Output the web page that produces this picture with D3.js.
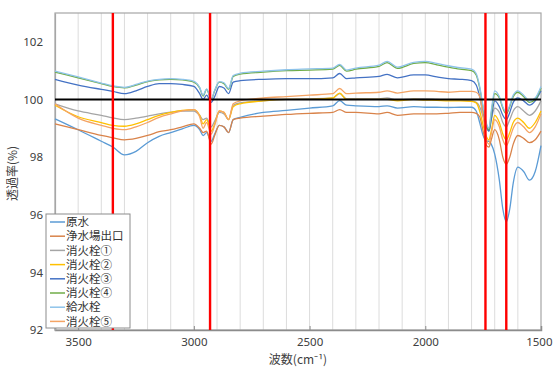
<!DOCTYPE html>
<html>
	<head>
		<title>FT-IR</title>
		<meta charset="UTF-8">
		<style type="text/css">
			body { margin: 0; background: #fff; }
			text { font-family: "Noto Sans CJK JP", "Noto Sans", sans-serif; }
		</style>
		<script src="https://d3js.org/d3.v7.min.js"></script>
	</head>
	<body>
		<script type="text/javascript">

			// wavenumber grid (cm-1)
			var wavenumbers = [3600, 3500, 3400, 3350, 3300, 3250, 3200, 3150, 3100, 3050, 3000, 2975, 2960, 2945, 2925, 2910, 2890, 2870, 2850, 2830, 2800, 2700, 2600, 2500, 2400, 2370, 2340, 2300, 2200, 2165, 2120, 2050, 2000, 1950, 1900, 1850, 1800, 1780, 1765, 1750, 1735, 1725, 1715, 1700, 1680, 1665, 1650, 1635, 1620, 1600, 1575, 1550, 1525, 1500];

			var genSui = [99.33, 98.95, 98.55, 98.35, 98.08, 98.2, 98.5, 98.72, 98.85, 98.98, 99.1, 98.95, 98.75, 98.85, 98.55, 98.8, 99.1, 99.05, 98.85, 99.3, 99.38, 99.55, 99.62, 99.7, 99.78, 99.96, 99.8, 99.78, 99.75, 99.78, 99.7, 99.75, 99.73, 99.73, 99.72, 99.73, 99.73, 99.6, 99.2, 98.75, 98.55, 98.55, 98.45, 98.1, 97.2, 96.2, 95.75, 96.2, 97.1, 97.65, 97.5, 97.2, 97.5, 98.4];
			var jousuijou = [99.15, 98.95, 98.75, 98.67, 98.6, 98.65, 98.75, 98.88, 98.95, 99.05, 99.15, 99.0, 98.85, 98.9, 98.45, 98.75, 99.1, 99.05, 98.85, 99.3, 99.35, 99.42, 99.48, 99.52, 99.55, 99.65, 99.55, 99.55, 99.5, 99.55, 99.45, 99.5, 99.5, 99.5, 99.52, 99.55, 99.55, 99.52, 99.4, 98.9, 98.4, 98.35, 98.6, 98.95, 98.6, 98.0, 97.75, 98.0, 98.45, 98.75, 98.65, 98.5, 98.6, 98.9];
			var shoukasen1 = [99.85, 99.6, 99.45, 99.36, 99.3, 99.35, 99.42, 99.5, 99.56, 99.6, 99.6, 99.45, 99.3, 99.35, 99.05, 99.25, 99.55, 99.5, 99.3, 99.8, 99.88, 99.95, 100.0, 100.02, 100.05, 100.2, 100.02, 100.02, 100.02, 100.05, 99.98, 100.02, 100.02, 100.0, 99.98, 99.97, 99.95, 99.9, 99.75, 99.4, 99.0, 98.9, 99.3, 99.7, 99.55, 99.2, 99.05, 99.3, 99.6, 99.75, 99.6, 99.45, 99.6, 99.95];
			var shoukasen2 = [99.8, 99.4, 99.2, 99.1, 99.07, 99.15, 99.3, 99.45, 99.55, 99.62, 99.65, 99.45, 99.15, 99.3, 98.9, 99.15, 99.6, 99.55, 99.3, 99.75, 99.85, 99.95, 100.0, 100.0, 100.05, 100.22, 100.0, 100.0, 100.0, 100.0, 99.95, 100.0, 99.98, 99.97, 99.95, 99.95, 99.93, 99.88, 99.6, 99.1, 98.7, 98.6, 98.9, 99.45, 99.2, 98.8, 98.6, 98.85, 99.2, 99.35, 99.2, 99.0, 99.2, 99.6];
			var shoukasen3 = [100.7, 100.5, 100.35, 100.28, 100.2, 100.3, 100.45, 100.55, 100.55, 100.52, 100.45, 100.2, 100.0, 100.15, 99.9, 100.1, 100.45, 100.4, 100.2, 100.6, 100.65, 100.7, 100.72, 100.72, 100.75, 100.9, 100.72, 100.75, 100.8, 100.87, 100.75, 100.85, 100.85, 100.78, 100.72, 100.7, 100.65, 100.5, 100.1, 99.5, 99.05, 98.9, 99.3, 99.95, 99.75, 99.45, 99.3, 99.55, 99.9, 100.05, 99.95, 99.8, 99.95, 100.3];
			var shoukasen4 = [100.95, 100.75, 100.55, 100.45, 100.4, 100.5, 100.62, 100.68, 100.7, 100.68, 100.6, 100.4, 100.12, 100.35, 100.0, 100.3, 100.6, 100.55, 100.35, 100.8, 100.88, 100.95, 101.0, 101.02, 101.05, 101.18, 100.98, 101.05, 101.15, 101.28, 101.08, 101.25, 101.28, 101.2, 101.12, 101.05, 101.0, 100.85, 100.4, 99.7, 99.1, 98.95, 99.5, 100.2, 100.05, 99.7, 99.5, 99.75, 100.1, 100.25, 100.1, 99.9, 100.0, 100.4];
			var kyuusuisen = [100.98, 100.78, 100.57, 100.47, 100.42, 100.52, 100.64, 100.7, 100.72, 100.7, 100.63, 100.42, 100.15, 100.37, 100.03, 100.32, 100.62, 100.58, 100.38, 100.83, 100.91, 100.98, 101.03, 101.06, 101.09, 101.22, 101.02, 101.09, 101.19, 101.32, 101.12, 101.29, 101.32, 101.25, 101.17, 101.1, 101.05, 100.9, 100.45, 99.75, 99.15, 99.0, 99.6, 100.3, 100.1, 99.75, 99.55, 99.8, 100.15, 100.3, 100.15, 99.95, 100.05, 100.45];
			var shoukasen5 = [99.85, 99.35, 99.1, 99.0, 98.95, 99.05, 99.2, 99.38, 99.5, 99.6, 99.65, 99.4, 99.0, 99.2, 98.8, 99.1, 99.6, 99.55, 99.3, 99.85, 99.95, 100.05, 100.1, 100.15, 100.2, 100.38, 100.2, 100.22, 100.25, 100.3, 100.22, 100.3, 100.3, 100.28, 100.25, 100.28, 100.28, 100.25, 100.1, 99.4, 98.6, 98.45, 98.8, 99.3, 99.05, 98.6, 98.4, 98.65, 99.0, 99.2, 99.05, 98.85, 99.05, 99.5];

			var seriesNames = ["原水", "浄水場出口", "消火栓①", "消火栓②", "消火栓③", "消火栓④", "給水栓", "消火栓⑤"];
			var seriesValues = [genSui, jousuijou, shoukasen1, shoukasen2, shoukasen3, shoukasen4, kyuusuisen, shoukasen5];
			var seriesColors = ["#5b9bd5", "#d9834a", "#a5a5a5", "#ffc000", "#4472c4", "#70ad47", "#8ec3ea", "#f4a464"];

			// peaks marked in red, and the 100 % reference
			var markLines = [3350, 2930, 1740, 1650];
			var baseLine = 100;

			var xTicks = [3500, 3000, 2500, 2000, 1500];
			var xGrid = d3.range(3500, 1500, -100);
			var yTicks = [92, 94, 96, 98, 100, 102];

			var margin = {top: 13, right: 12, bottom: 37, left: 55},
				width = 553 - margin.left - margin.right,
				height = 367 - margin.top - margin.bottom;

			var x = d3.scaleLinear().domain([3600, 1500]).range([0, width]);
			var y = d3.scaleLinear().domain([92, 103]).range([height, 0]);

			var svg = d3.select("body")
			.append("svg")
				.attr("width", 553)
				.attr("height", 367)
			.append("g")
				.attr("transform", "translate(" + margin.left + "," + margin.top + ")");

			// vertical grid
			svg.append("g")
				.selectAll("line")
				.data(xGrid)
				.enter().append("line")
					.attr("x1", d => x(d)).attr("x2", d => x(d))
					.attr("y1", 0).attr("y2", height)
					.attr("stroke", "#dcdcdc")
					.attr("stroke-width", 1);

			// frame
			svg.append("rect")
				.attr("width", width).attr("height", height)
				.attr("fill", "none")
				.attr("stroke", "#a6a6a6")
				.attr("stroke-width", 1.2);

			var xAxis = d3.axisBottom(x).tickValues(xTicks).tickSize(-4).tickPadding(8).tickFormat(d3.format("d"));
			var yAxis = d3.axisLeft(y).tickValues(yTicks).tickSize(0).tickPadding(12);

			var gx = svg.append("g")
				.attr("transform", "translate(0," + height + ")")
				.call(xAxis);
			var gy = svg.append("g").call(yAxis);

			[gx, gy].forEach(function(g) {
				g.select(".domain").attr("stroke", "#8c8c8c").attr("stroke-width", 1.5);
				g.selectAll(".tick line").attr("stroke", "#8c8c8c");
				g.selectAll("text").attr("fill", "#404040").style("font-size", "11.5px")
					.style("font-family", "'Noto Sans', sans-serif");
			});
			gy.select(".domain").attr("stroke", "#a6a6a6").attr("stroke-width", 1.2);

			// last x label sits against the right edge
			gx.selectAll(".tick text")
				.filter(d => d === 1500)
				.attr("text-anchor", "end")
				.attr("dx", "11px");

			var valueline = d3.line()
				.x(function(d) { return x(d[0]); })
				.y(function(d) { return y(d[1]); })
				.curve(d3.curveMonotoneX);

			seriesValues.forEach(function(vals, i) {
				var pts = wavenumbers.map(function(w, j) { return [w, vals[j]]; });
				svg.append("path")
					.attr("d", valueline(pts))
					.attr("fill", "none")
					.attr("stroke", seriesColors[i])
					.attr("stroke-width", 1.3);
			});

			// 100 % line
			svg.append("line")
				.attr("x1", 0).attr("x2", width)
				.attr("y1", y(baseLine)).attr("y2", y(baseLine))
				.attr("stroke", "#000")
				.attr("stroke-width", 2);

			// red markers
			svg.append("g")
				.selectAll("line")
				.data(markLines)
				.enter().append("line")
					.attr("x1", d => x(d)).attr("x2", d => x(d))
					.attr("y1", 0).attr("y2", height)
					.attr("stroke", "#ff0000")
					.attr("stroke-width", 2.4);

			// axis titles
			svg.append("text")
				.attr("transform", "translate(-38," + (height / 2 + 2) + ") rotate(-90)")
				.attr("text-anchor", "middle")
				.attr("fill", "#404040")
				.style("font-size", "12px")
				.text("透過率(%)");

			svg.append("text")
				.attr("x", width / 2)
				.attr("y", height + 34)
				.attr("text-anchor", "middle")
				.attr("fill", "#404040")
				.style("font-size", "12px")
				.text("波数(cm⁻¹)");

			// legend
			var legend = svg.append("g")
				.attr("transform", "translate(-9,201)");

			legend.append("rect")
				.attr("width", 84).attr("height", 114)
				.attr("fill", "#fff")
				.attr("stroke", "#8c8c8c")
				.attr("stroke-width", 1);

			var item = legend.selectAll(".item")
				.data(seriesNames)
				.enter().append("g")
					.attr("transform", function(d, i) { return "translate(0," + (8 + i * 14.2) + ")"; });

			item.append("line")
				.attr("x1", 4).attr("x2", 19)
				.attr("stroke", function(d, i) { return seriesColors[i]; })
				.attr("stroke-width", 1.5);

			item.append("text")
				.attr("x", 20)
				.attr("dy", "0.36em")
				.attr("fill", "#333")
				.style("font-size", "11.5px")
				.text(d => d);

		</script>
	</body>
</html>
